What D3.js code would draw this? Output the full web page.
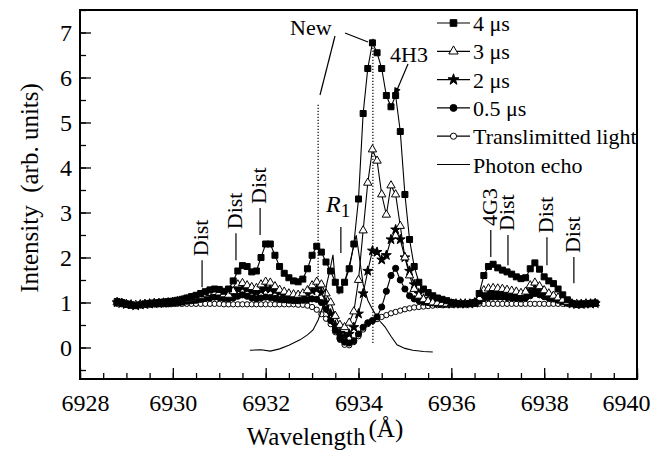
<!DOCTYPE html>
<html><head><meta charset="utf-8">
<script src="https://cdn.jsdelivr.net/npm/d3@7"></script>
<style>
html,body{margin:0;padding:0;background:#fff;}
svg{display:block;font-family:"Liberation Serif",serif;}
svg text{font-family:"Liberation Serif",serif;}
</style></head><body>
<svg id="chart" width="665" height="452"></svg>
<script>
// Spectra are sampled every 0.1 Å, from 6928.8 Å to 6939.1 Å
const wavelength = d3.range(104).map(i => +(6928.8 + 0.1 * i).toFixed(1));

const delay4us = [
  1.02, 1.0, 0.97, 0.95, 0.93, 0.95, 0.97, 0.98, 0.99, 1.0,
  1.01, 1.02, 1.03, 1.05, 1.07, 1.1, 1.13, 1.16, 1.2, 1.24,
  1.28, 1.3, 1.29, 1.25, 1.3, 1.48, 1.7, 1.82, 1.8, 1.68,
  1.7, 2.0, 2.3, 2.3, 2.05, 1.8, 1.65, 1.55, 1.48, 1.46,
  1.52, 1.75, 2.05, 2.25, 2.12, 1.9, 1.7, 1.45, 1.28, 1.45,
  1.75, 2.3, 3.3, 5.2, 6.2, 6.77, 6.55, 6.2, 5.6, 5.35,
  5.6, 4.8, 3.4, 2.4, 1.8, 1.45, 1.3, 1.22, 1.15, 1.1,
  1.07, 1.04, 1.0, 0.98, 0.97, 0.97, 0.98, 1.0, 1.2, 1.6,
  1.8, 1.85, 1.77, 1.72, 1.68, 1.63, 1.57, 1.53, 1.55, 1.75,
  1.88, 1.74, 1.57, 1.48, 1.42, 1.3, 1.17, 1.06, 0.98, 0.96,
  0.97, 0.97, 0.98, 0.99
];
const delay3us = [
  1.0, 0.99, 0.96, 0.94, 0.94, 0.95, 0.96, 0.97, 0.98, 0.98,
  0.99, 1.0, 1.01, 1.03, 1.05, 1.07, 1.1, 1.12, 1.15, 1.18,
  1.21, 1.23, 1.22, 1.18, 1.17, 1.25, 1.4, 1.43, 1.38, 1.34,
  1.32, 1.4, 1.46, 1.44, 1.36, 1.28, 1.24, 1.2, 1.18, 1.17,
  1.2, 1.27, 1.38, 1.46, 1.4, 1.2, 1.0, 0.7, 0.5, 0.45,
  0.55, 0.8, 1.5, 2.6, 3.66, 4.4, 4.15, 3.4, 2.95, 3.6,
  3.4, 2.7, 2.0, 1.6, 1.3, 1.15, 1.07, 1.03, 1.0, 0.99,
  0.98, 0.97, 0.97, 0.97, 0.97, 0.97, 0.97, 0.99, 1.1, 1.27,
  1.31, 1.32, 1.31, 1.3, 1.28, 1.26, 1.24, 1.21, 1.24, 1.38,
  1.44, 1.36, 1.27, 1.2, 1.15, 1.11, 1.06, 1.01, 0.97, 0.96,
  0.96, 0.97, 0.97, 0.98
];
const delay2us = [
  1.0, 0.98, 0.96, 0.95, 0.93, 0.95, 0.96, 0.97, 0.98, 0.98,
  0.99, 0.99, 1.0, 1.01, 1.03, 1.05, 1.07, 1.09, 1.11, 1.14,
  1.16, 1.18, 1.17, 1.14, 1.14, 1.2, 1.3, 1.34, 1.3, 1.25,
  1.22, 1.27, 1.31, 1.3, 1.26, 1.22, 1.18, 1.16, 1.14, 1.13,
  1.15, 1.2, 1.26, 1.3, 1.22, 1.0, 0.75, 0.5, 0.32, 0.25,
  0.3, 0.45, 0.75, 1.2, 1.7, 2.15, 2.12, 1.95, 2.05, 2.4,
  2.62, 2.4, 2.0, 1.7, 1.4, 1.2, 1.08, 1.03, 1.0, 0.99,
  0.98, 0.97, 0.97, 0.97, 0.97, 0.97, 0.97, 0.99, 1.06, 1.17,
  1.21, 1.22, 1.22, 1.21, 1.2, 1.19, 1.17, 1.15, 1.17, 1.25,
  1.3, 1.26, 1.2, 1.16, 1.12, 1.08, 1.04, 1.0, 0.97, 0.96,
  0.96, 0.97, 0.97, 0.98
];
const delay05us = [
  1.0, 0.98, 0.96, 0.94, 0.94, 0.95, 0.96, 0.97, 0.97, 0.98,
  0.98, 0.98, 0.99, 1.0, 1.01, 1.03, 1.04, 1.05, 1.07, 1.09,
  1.1, 1.12, 1.11, 1.09, 1.08, 1.1, 1.14, 1.17, 1.14, 1.1,
  1.08, 1.1, 1.12, 1.11, 1.09, 1.07, 1.06, 1.05, 1.04, 1.04,
  1.05, 1.06, 1.08, 1.07, 1.0, 0.85, 0.6, 0.38, 0.2, 0.12,
  0.1, 0.15, 0.3, 0.45, 0.55, 0.6, 0.68, 0.9, 1.25, 1.6,
  1.76, 1.5, 1.3, 1.15, 1.08, 1.04, 1.01, 1.0, 0.99, 0.98,
  0.98, 0.97, 0.97, 0.97, 0.97, 0.97, 0.97, 0.98, 1.03, 1.09,
  1.11, 1.12, 1.12, 1.12, 1.11, 1.1, 1.09, 1.08, 1.1, 1.15,
  1.2, 1.17, 1.13, 1.1, 1.08, 1.05, 1.02, 0.99, 0.97, 0.96,
  0.96, 0.97, 0.97, 0.98
];
const translimitted = [
  0.97, 0.96, 0.95, 0.94, 0.93, 0.94, 0.95, 0.95, 0.96, 0.96,
  0.96, 0.96, 0.97, 0.97, 0.97, 0.97, 0.97, 0.97, 0.97, 0.97,
  0.97, 0.97, 0.97, 0.96, 0.96, 0.96, 0.96, 0.96, 0.96, 0.96,
  0.96, 0.96, 0.96, 0.96, 0.96, 0.96, 0.96, 0.96, 0.96, 0.95,
  0.95, 0.93, 0.9, 0.84, 0.74, 0.64, 0.52, 0.34, 0.17, 0.06,
  0.05, 0.12, 0.25, 0.4, 0.52, 0.58, 0.63, 0.68, 0.72, 0.76,
  0.79, 0.82, 0.85, 0.87, 0.89, 0.9, 0.91, 0.92, 0.93, 0.94,
  0.94, 0.95, 0.95, 0.96, 0.96, 0.96, 0.97, 0.97, 0.97, 0.97,
  0.97, 0.97, 0.97, 0.97, 0.97, 0.97, 0.97, 0.97, 0.97, 0.97,
  0.97, 0.97, 0.97, 0.97, 0.97, 0.97, 0.97, 0.97, 0.97, 0.97,
  0.97, 0.97, 0.97, 0.98
];

// Photon echo trace (no markers), its own wavelength grid
const photonEchoWavelength = [
  6931.66, 6931.9, 6932.1, 6932.3, 6932.5, 6932.74, 6932.9, 6933.02, 6933.13, 6933.23,
  6933.32, 6933.38, 6933.45, 6933.5, 6933.58, 6933.7, 6933.82, 6933.95, 6934.02, 6934.1,
  6934.2, 6934.31, 6934.45, 6934.57, 6934.7, 6934.83, 6935.0, 6935.17, 6935.4, 6935.6
];
const photonEchoIntensity = [
  -0.06, -0.05, -0.08, -0.03, 0.05, 0.17, 0.28, 0.39, 0.61, 0.9,
  1.43, 1.7, 2.06, 1.45, 1.2, 1.45, 1.9, 2.5, 2.0, 1.4,
  1.05, 0.83, 0.6, 0.46, 0.25, 0.06, -0.02, -0.06, -0.09, -0.1
];

const xTicksMajor = [6928, 6930, 6932, 6934, 6936, 6938, 6940];
const xTicksMinor = d3.range(6928, 6940.01, 0.5);
const yTicksMajor = [0, 1, 2, 3, 4, 5, 6, 7];
const yTicksMinor = d3.range(-0.5, 7.51, 0.5);

const legendLabels = ["4 μs", "3 μs", "2 μs", "0.5 μs", "Translimitted light", "Photon echo"];

const FONT = "Liberation Serif";

// Marker styles per trace
const markerStyle = {
  "4 μs": { type: d3.symbolSquare, size: 36, fill: "#000" },
  "3 μs": { type: d3.symbolTriangle, size: 30, fill: "#fff" },
  "2 μs": { type: d3.symbolStar, size: 30, fill: "#000" },
  "0.5 μs": { type: d3.symbolCircle, size: 30, fill: "#000" },
  "Translimitted light": { type: d3.symbolCircle, size: 22, fill: "#fff" },
  "Photon echo": null
};

// Marked lines, in drawing order (bottom first)
const series = [
  { label: "Translimitted light", values: translimitted },
  { label: "0.5 μs", values: delay05us },
  { label: "2 μs", values: delay2us },
  { label: "3 μs", values: delay3us },
  { label: "4 μs", values: delay4us }
];

const svg = d3.select("#chart");
const W = 665, H = 452;
const plotLeft = 80, plotRight = 637, plotTop = 10, plotBottom = 379;

const x = d3.scaleLinear().domain([6928, 6940]).range([plotLeft, plotRight]);
const y = d3.scaleLinear().domain([-0.7, 7.5]).range([plotBottom, plotTop]);

svg.append("rect").attr("width", W).attr("height", H).attr("fill", "#fff");

svg.append("defs").append("clipPath").attr("id", "plotClip")
  .append("rect").attr("x", plotLeft).attr("y", plotTop)
  .attr("width", plotRight - plotLeft).attr("height", plotBottom - plotTop);

// Axes with inward ticks
const gx = svg.append("g").attr("transform", `translate(0,${plotBottom})`);
gx.call(d3.axisBottom(x).tickValues(xTicksMinor).tickSize(-6).tickFormat(""));
const gxMajor = svg.append("g").attr("transform", `translate(0,${plotBottom})`);
gxMajor.call(d3.axisBottom(x).tickValues(xTicksMajor).tickSize(-11).tickPadding(15).tickFormat(d3.format("d")));
gxMajor.selectAll(".tick text").attr("dx", d => d === 6928 ? 5 : d === 6940 ? -11 : 0);

const gy = svg.append("g").attr("transform", `translate(${plotLeft},0)`);
gy.call(d3.axisLeft(y).tickValues(yTicksMinor).tickSize(-6).tickFormat(""));
const gyMajor = svg.append("g").attr("transform", `translate(${plotLeft},0)`);
gyMajor.call(d3.axisLeft(y).tickValues(yTicksMajor).tickSize(-11).tickPadding(8).tickFormat(d3.format("d")));

[gx, gxMajor, gy, gyMajor].forEach(g => g.attr("font-family", FONT).attr("font-size", 24));
svg.selectAll(".domain").remove();
svg.selectAll(".tick line").attr("stroke", "#000").attr("stroke-width", 1.3);
svg.selectAll(".tick text").attr("font-family", FONT).attr("font-size", 24).attr("fill", "#000");

// Plot frame
svg.append("rect").attr("x", plotLeft).attr("y", plotTop)
  .attr("width", plotRight - plotLeft).attr("height", plotBottom - plotTop)
  .attr("fill", "none").attr("stroke", "#000").attr("stroke-width", 2);

const plot = svg.append("g").attr("clip-path", "url(#plotClip)");

// Dotted guides through the two main features
const guides = [
  { wl: 6933.13, from: 1.5, to: 5.43 },
  { wl: 6934.31, from: 0.1, to: 6.88 }
];
plot.selectAll("line.guide").data(guides).join("line")
  .attr("class", "guide")
  .attr("x1", d => x(d.wl)).attr("x2", d => x(d.wl))
  .attr("y1", d => y(d.from)).attr("y2", d => y(d.to))
  .attr("stroke", "#000").attr("stroke-width", 1.2).attr("stroke-dasharray", "1.2,1.8");

const line = d3.line().x(d => x(d[0])).y(d => y(d[1]));

series.forEach(s => {
  const st = markerStyle[s.label];
  const pts = wavelength.map((w, i) => [w, s.values[i]]);
  const g = plot.append("g");
  g.append("path").datum(pts).attr("d", line)
    .attr("fill", "none").attr("stroke", "#000").attr("stroke-width", 1.1);
  const sym = d3.symbol().type(st.type).size(st.size);
  g.selectAll("path.m").data(pts).join("path")
    .attr("class", "m")
    .attr("d", sym)
    .attr("transform", d => `translate(${x(d[0])},${y(d[1])})`)
    .attr("fill", st.fill).attr("stroke", "#000").attr("stroke-width", 1);
});

plot.append("path")
  .datum(photonEchoWavelength.map((w, i) => [w, photonEchoIntensity[i]]))
  .attr("d", line).attr("fill", "none").attr("stroke", "#000").attr("stroke-width", 1.1);

// Legend
const legend = svg.append("g").attr("font-family", FONT);
legendLabels.forEach((lab, i) => {
  const ly = 23 + i * 28.3;
  const g = legend.append("g").attr("transform", `translate(0,${ly})`);
  g.append("line").attr("x1", 437).attr("x2", 470).attr("y1", 0).attr("y2", 0)
    .attr("stroke", "#000").attr("stroke-width", 1.2);
  const st = markerStyle[lab];
  if (st) {
    g.append("path").attr("d", d3.symbol().type(st.type).size(st.size + 8)())
      .attr("transform", "translate(453.5,0)")
      .attr("fill", st.fill).attr("stroke", "#000").attr("stroke-width", 1);
  }
  g.append("text").attr("x", 473).attr("y", 8)
    .attr("font-size", 22).attr("fill", "#000").text(lab);
});

// Annotations
const ann = svg.append("g").attr("fill", "#000").attr("font-size", 22).attr("font-family", FONT);
ann.append("text").attr("x", 290).attr("y", 35).text("New");
ann.append("line").attr("x1", 335).attr("y1", 36).attr("x2", 320).attr("y2", 95)
  .attr("stroke", "#000").attr("stroke-width", 1.2);
ann.append("line").attr("x1", 345).attr("y1", 33).attr("x2", 368).attr("y2", 42)
  .attr("stroke", "#000").attr("stroke-width", 1.2);

ann.append("text").attr("x", 390).attr("y", 62).text("4H3");
ann.append("line").attr("x1", 408).attr("y1", 64).attr("x2", 397).attr("y2", 90)
  .attr("stroke", "#000").attr("stroke-width", 1.2);
ann.append("path").attr("d", "M393.5,97 L394.5,87 L400.5,89.5 Z").attr("fill", "#000");

const r1 = ann.append("text").attr("x", 326).attr("y", 212);
r1.append("tspan").attr("font-style", "italic").attr("font-size", 24).text("R");
r1.append("tspan").attr("font-size", 19).attr("dy", 5).text("1");
ann.append("line").attr("x1", x(6933.62)).attr("x2", x(6933.62)).attr("y1", 227).attr("y2", 253)
  .attr("stroke", "#000").attr("stroke-width", 1.2);

// Rotated feature labels with short leader lines
const featureMarks = [
  { wl: 6930.63, label: "Dist", lineTop: 1.94, lineBottom: 1.34 },
  { wl: 6931.36, label: "Dist", lineTop: 2.54, lineBottom: 1.94 },
  { wl: 6931.88, label: "Dist", lineTop: 3.1, lineBottom: 2.5 },
  { wl: 6936.85, label: "4G3", lineTop: 2.61, lineBottom: 2.01 },
  { wl: 6937.22, label: "Dist", lineTop: 2.5, lineBottom: 1.83 },
  { wl: 6938.06, label: "Dist", lineTop: 2.45, lineBottom: 1.83 },
  { wl: 6938.64, label: "Dist", lineTop: 2.01, lineBottom: 1.43 }
];
featureMarks.forEach(f => {
  const fx = x(f.wl);
  ann.append("line").attr("x1", fx).attr("x2", fx)
    .attr("y1", y(f.lineTop)).attr("y2", y(f.lineBottom))
    .attr("stroke", "#000").attr("stroke-width", 1.2);
  ann.append("text")
    .attr("transform", `translate(${fx + 6},${y(f.lineTop) - 4}) rotate(-90)`)
    .text(f.label);
});

// Axis titles
const xt = svg.append("text").attr("y", 445).attr("font-size", 25).attr("fill", "#000")
  .attr("font-family", FONT).attr("text-anchor", "middle").attr("x", 325);
xt.append("tspan").text("Wavelength");
xt.append("tspan").attr("dy", -8).attr("dx", 3).text("(Å)");

svg.append("text").attr("transform", "translate(38,188) rotate(-90)")
  .attr("text-anchor", "middle").attr("font-size", 25).attr("fill", "#000")
  .attr("font-family", FONT)
  .style("white-space", "pre")
  .text("Intensity  (arb. units)");
</script>
</body></html>
